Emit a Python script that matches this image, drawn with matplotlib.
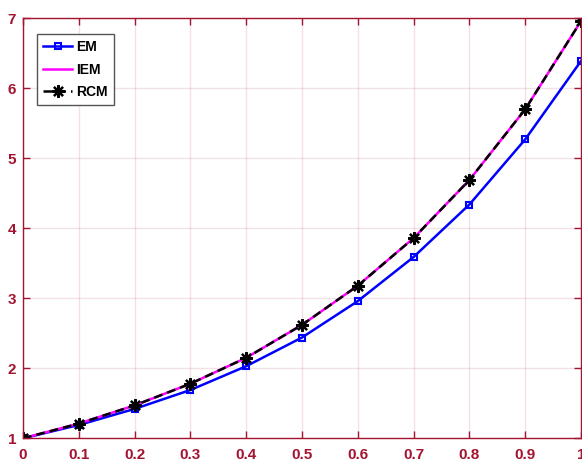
import numpy as np
import matplotlib
matplotlib.use('Agg')
import matplotlib.pyplot as plt

# Data
x = [0, 0.1, 0.2, 0.3, 0.4, 0.5, 0.6, 0.7, 0.8, 0.9, 1.0]
em = [1.0, 1.19, 1.42, 1.69, 2.03, 2.44, 2.96, 3.59, 4.34, 5.27, 6.39]
iem = [1.0, 1.21, 1.47, 1.78, 2.15, 2.62, 3.18, 3.86, 4.69, 5.70, 6.96]
rcm = [1.0, 1.21, 1.47, 1.78, 2.15, 2.62, 3.18, 3.86, 4.69, 5.70, 6.96]

xticks = [0, 0.1, 0.2, 0.3, 0.4, 0.5, 0.6, 0.7, 0.8, 0.9, 1]
xticklabels = ['0', '0.1', '0.2', '0.3', '0.4', '0.5', '0.6', '0.7', '0.8', '0.9', '1']
yticks = [1, 2, 3, 4, 5, 6, 7]

axis_color = '#A2142F'

plt.rcParams['font.family'] = ['Liberation Sans', 'DejaVu Sans']

fig = plt.figure(figsize=(5.82, 4.63), dpi=100)
ax = fig.add_axes([23 / 582, 24.7 / 463, 558 / 582, 420 / 463])

ax.plot(x, em, color='blue', lw=1.8, marker='s', ms=4.5, mfc='none', mew=1.5, label='EM')
ax.plot(x, iem, color='magenta', lw=1.8, label='IEM')
ax.plot(x, rcm, color='black', lw=1.8, ls=(0, (3.5, 2)), marker=(8, 2, 0),
        ms=9, mew=1.6, label='RCM')

ax.set_xlim(0, 1)
ax.set_ylim(1, 7)
ax.set_xticks(xticks)
ax.set_xticklabels(xticklabels)
ax.set_yticks(yticks)

ax.grid(True, color=axis_color, alpha=0.12, lw=1)
ax.tick_params(direction='in', length=5, width=1, colors=axis_color,
               top=True, right=True, labelsize=11)
ax.tick_params(axis='x', pad=7)
ax.tick_params(axis='y', pad=5)
for lab in ax.get_xticklabels() + ax.get_yticklabels():
    lab.set_fontweight('bold')
for sp in ax.spines.values():
    sp.set_color(axis_color)
    sp.set_linewidth(1)

leg = ax.legend(loc='upper left', bbox_to_anchor=(0.025, 0.9626), borderaxespad=0,
                fancybox=False, framealpha=1, edgecolor='#555555', handlelength=2.1,
                handletextpad=0.3, borderpad=0.45, labelspacing=0.6,
                prop={'weight': 'bold', 'size': 10})
leg.get_frame().set_linewidth(1)

fig.savefig('out.png', dpi=100)
